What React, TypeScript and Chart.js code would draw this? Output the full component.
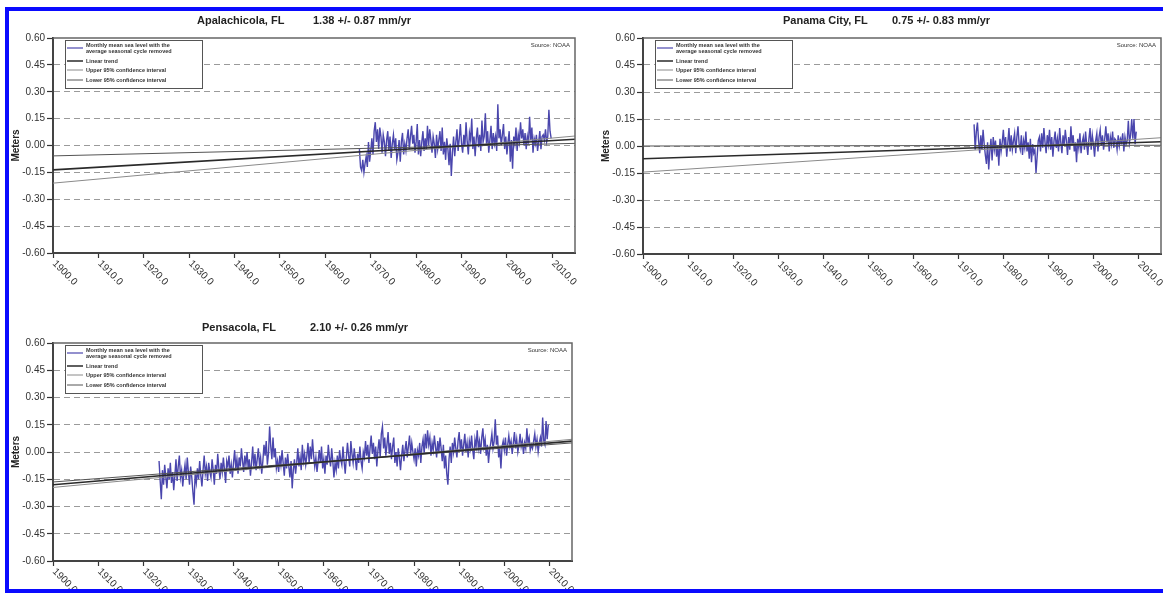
import React, { useEffect, useRef } from "react";
import { Chart, registerables } from "chart.js";

Chart.register(...registerables);

// ---------- shared axis data ----------
const X_TICKS = [1900, 1910, 1920, 1930, 1940, 1950, 1960, 1970, 1980, 1990, 2000, 2010];
const Y_TICKS = [-0.6, -0.45, -0.3, -0.15, 0, 0.15, 0.3, 0.45, 0.6];
const X_MIN = 1900;
const X_MAX = 2015;
const STEP = 0.25; // quarterly samples of the monthly record

const LEGEND_LABELS = [
  ["Monthly mean sea level with the", "average seasonal cycle removed"],
  ["Linear trend"],
  ["Upper 95% confidence interval"],
  ["Lower 95% confidence interval"],
];
const SOURCE_TEXT = "Source: NOAA";
const Y_TITLE = "Meters";

// ---------- Apalachicola ----------
const APALACHICOLA_NAME = "Apalachicola, FL";
const APALACHICOLA_RATE = "1.38 +/- 0.87 mm/yr";
const APALACHICOLA_START = 1967.5;
const APALACHICOLA_SEA_LEVEL = [
  -0.02, -0.12,
  -0.14, -0.08, -0.15, -0.10,
  -0.06, -0.12, 0.02, -0.09,
  -0.03, 0.04, -0.05, 0.08,
  0.13, 0.02, 0.09, -0.02,
  0.10, 0.05, -0.04, 0.06,
  0.02, -0.06, 0.03, 0.08,
  -0.03, 0.05, -0.07, 0.01,
  0.06, -0.02, 0.04, -0.08,
  -0.04, 0.03, -0.09, 0.02,
  0.07, -0.05, 0.01, -0.03,
  0.04, 0.09, -0.02, 0.05,
  0.11, 0.01, 0.06, -0.04,
  0.02, 0.12, -0.05, 0.03,
  -0.06, 0.02, 0.08, -0.03,
  0.04, -0.02, 0.11, 0.00,
  0.09, 0.03, -0.04, 0.05,
  0.01, -0.07, 0.06, -0.02,
  0.03, 0.08, -0.03, 0.10,
  -0.05, 0.02, -0.08, 0.04,
  -0.02, -0.11, 0.01, -0.17,
  -0.04, 0.05, -0.06, 0.02,
  0.09, -0.03, 0.04, 0.12,
  0.01, -0.04, 0.06, 0.00,
  0.13, 0.02, -0.05, 0.07,
  0.03, 0.15, -0.02, 0.05,
  -0.06, 0.04, 0.10, -0.01,
  0.06, -0.03, 0.14, 0.02,
  0.05, 0.18, 0.01, 0.08,
  -0.04, 0.03, 0.11, -0.02,
  0.07, 0.01, 0.05, -0.03,
  0.23, 0.04, 0.09, 0.00,
  0.06, 0.12, -0.02, 0.05,
  -0.05, 0.02, 0.08, -0.09,
  0.03, -0.13, 0.05, 0.01,
  0.10, -0.03, 0.06, 0.02,
  0.13, 0.04, 0.09, 0.00,
  0.07, -0.02, 0.05, 0.01,
  0.16, 0.03, 0.10, -0.04,
  0.04, 0.01, 0.06, -0.03,
  0.02, 0.08, -0.02, 0.05,
  0.06, 0.03, 0.09, 0.02,
  0.05, 0.20, 0.08, 0.04,
];
// values at X_MIN and X_MAX
const APALACHICOLA_TREND = [-0.136, 0.035];
const APALACHICOLA_UPPER = [-0.21, 0.053];
const APALACHICOLA_LOWER = [-0.058, 0.012];

// ---------- Panama City ----------
const PANAMA_NAME = "Panama City, FL";
const PANAMA_RATE = "0.75 +/- 0.83 mm/yr";
const PANAMA_START = 1973.5;
const PANAMA_SEA_LEVEL = [
  0.12, -0.02,
  0.08, 0.13, 0.03, -0.04,
  0.06, -0.02, 0.09, 0.01,
  -0.05, -0.10, 0.02, -0.13,
  -0.03, 0.04, -0.08, 0.05,
  -0.02, 0.03, -0.06, 0.00,
  -0.11, 0.04, -0.03, 0.02,
  0.09, -0.01, 0.05, -0.06,
  0.02, 0.10, -0.03, 0.06,
  -0.02, 0.03, 0.07, -0.04,
  0.05, 0.11, 0.01, -0.02,
  0.06, -0.05, 0.03, -0.01,
  0.08, -0.03, 0.02, -0.07,
  0.04, -0.09, 0.01, -0.04,
  -0.02, -0.15, -0.06, 0.03,
  0.05, -0.03, 0.07, -0.01,
  0.10, 0.02, -0.04, 0.06,
  0.01, 0.09, -0.02, 0.05,
  -0.06, 0.03, 0.08, -0.01,
  0.04, -0.03, 0.10, 0.02,
  -0.04, 0.06, 0.00, 0.09,
  0.03, -0.05, 0.05, -0.02,
  0.11, 0.01, 0.06, -0.03,
  0.02, -0.09, 0.04, -0.01,
  0.07, -0.04, 0.02, 0.05,
  -0.02, 0.08, 0.01, -0.05,
  0.04, 0.10, -0.02, 0.06,
  0.01, -0.06, 0.03, 0.07,
  -0.03, 0.05, 0.09, 0.00,
  0.06, -0.02, 0.04, 0.11,
  0.02, 0.07, -0.03, 0.05,
  0.01, 0.08, -0.01, 0.04,
  0.03, -0.02, 0.06, 0.00,
  0.04, 0.02, 0.07, -0.03,
  0.05, 0.01, 0.03, 0.14,
  0.02, 0.06, 0.15, 0.04,
  0.15, 0.01, 0.08,
];
const PANAMA_TREND = [-0.071, 0.024];
const PANAMA_UPPER = [-0.145, 0.046];
const PANAMA_LOWER = [0.0, 0.004];

// ---------- Pensacola ----------
const PENSACOLA_NAME = "Pensacola, FL";
const PENSACOLA_RATE = "2.10 +/- 0.26 mm/yr";
const PENSACOLA_START = 1923.5;
const PENSACOLA_SEA_LEVEL = [
  -0.05, -0.16,
  -0.26, -0.10, -0.18, -0.07,
  -0.14, -0.20, -0.09, -0.15,
  -0.06, -0.17, -0.11, -0.21,
  -0.13, -0.04, -0.16, -0.08,
  -0.02, -0.14, -0.10, -0.19,
  -0.12, -0.07, -0.15, -0.03,
  -0.11, -0.18, -0.08, -0.14,
  -0.22, -0.29, -0.12, -0.17,
  -0.09, -0.15, -0.05, -0.13,
  -0.19, -0.10, -0.02, -0.12,
  -0.08, -0.16, -0.06, -0.11,
  -0.14, -0.04, -0.10, -0.18,
  -0.07, -0.12, -0.01, -0.09,
  -0.15, -0.06, -0.11, -0.03,
  -0.10, -0.17, -0.05, -0.08,
  -0.02, -0.12, -0.07, -0.14,
  -0.06, 0.01, -0.09, -0.04,
  -0.12, -0.03, -0.08, 0.02,
  -0.05, -0.11, -0.02, -0.07,
  0.00, -0.09, -0.04, -0.13,
  -0.06, 0.03, -0.08, -0.01,
  -0.10, -0.04, 0.02, -0.07,
  -0.03, -0.12, -0.05, 0.04,
  -0.02, 0.06, -0.07, -0.01,
  0.14, 0.03, -0.04, 0.08,
  -0.03, 0.02, -0.09, -0.05,
  -0.11, -0.02, -0.07, 0.01,
  -0.06, -0.13, -0.03, -0.09,
  -0.01, -0.08, -0.14, -0.05,
  -0.20, -0.10, -0.04, -0.12,
  -0.06, 0.02, -0.08, -0.03,
  -0.10, 0.04, -0.05, -0.01,
  -0.07, -0.02, 0.05, -0.06,
  0.03, -0.04, 0.07, -0.02,
  -0.08, -0.03, -0.11, -0.05,
  0.01, -0.06, 0.03, -0.09,
  -0.04, -0.12, -0.02, -0.07,
  0.04, -0.03, -0.08, 0.02,
  -0.05, -0.14, -0.06, -0.10,
  -0.02, -0.09, 0.01, -0.04,
  -0.07, 0.03, -0.05, -0.12,
  -0.03, 0.05, -0.02, -0.08,
  0.06, -0.01, -0.06, 0.02,
  -0.04, -0.10, -0.01, -0.06,
  0.03, -0.05, -0.09, 0.00,
  -0.03, 0.06, -0.02, 0.04,
  -0.06, 0.02, 0.09, -0.01,
  0.05, -0.04, 0.03, -0.08,
  0.01, 0.07, -0.03, 0.10,
  0.14, 0.02, 0.08, -0.02,
  0.04, 0.11, -0.01, 0.05,
  -0.04, 0.03, 0.08, -0.06,
  0.00, -0.08, 0.02, -0.03,
  -0.10, -0.02, 0.04, -0.05,
  0.01, 0.06, -0.03, 0.03,
  0.09, -0.01, 0.05, 0.00,
  -0.04, 0.02, -0.08, 0.01,
  -0.02, 0.05, -0.06, 0.03,
  0.07, -0.01, 0.10, 0.02,
  0.12, 0.04, 0.08, -0.02,
  0.05, 0.01, 0.09, 0.03,
  -0.03, 0.06, 0.00, 0.08,
  0.02, -0.05, 0.04, -0.09,
  -0.02, -0.12, -0.18, -0.04,
  0.03, -0.06, 0.05, 0.00,
  0.08, 0.02, -0.03, 0.06,
  0.11, 0.01, 0.07, -0.02,
  0.04, 0.10, 0.00, 0.05,
  -0.03, 0.06, 0.02, 0.09,
  0.01, -0.04, 0.07, 0.03,
  0.12, 0.02, 0.06, -0.01,
  0.08, 0.13, 0.03, 0.07,
  -0.02, 0.04, -0.06, 0.01,
  0.05, 0.10, 0.02, 0.06,
  0.18, 0.04, 0.09, -0.03,
  0.02, -0.09, 0.03, 0.06,
  0.01, 0.08, -0.02, 0.04,
  0.09, 0.03, 0.06, -0.01,
  0.05, 0.11, 0.02, 0.07,
  0.00, 0.04, 0.10, 0.03,
  0.06, -0.01, 0.05, 0.02,
  0.13, 0.05, 0.08, 0.01,
  0.04, 0.02, 0.06, 0.10,
  0.03, 0.07, 0.00, 0.05,
  0.08, 0.03, 0.19, 0.06,
  0.04, 0.17, 0.07, 0.15,
];
const PENSACOLA_TREND = [-0.18, 0.06];
const PENSACOLA_UPPER = [-0.195, 0.07];
const PENSACOLA_LOWER = [-0.165, 0.05];

// ---------- styling ----------
const FONT = "'Liberation Sans', Arial, Helvetica, sans-serif";
const SERIES_COLOR = "#4a46ad";
const TREND_COLOR = "#2a2a2a";
const UPPER_COLOR = "#8a8a8a";
const LOWER_COLOR = "#555555";

type PanelDef = {
  name: string;
  rate: string;
  start: number;
  values: number[];
  trend: number[];
  upper: number[];
  lower: number[];
  box: { left: number; top: number; width: number; height: number };
  padTop: number;
  padRight: number;
  xAxisHeight: number;
  titleDx: [number, number];
  titleY: number;
};

const PANELS: PanelDef[] = [
  {
    name: APALACHICOLA_NAME, rate: APALACHICOLA_RATE, start: APALACHICOLA_START,
    values: APALACHICOLA_SEA_LEVEL, trend: APALACHICOLA_TREND, upper: APALACHICOLA_UPPER, lower: APALACHICOLA_LOWER,
    box: { left: 0, top: 0, width: 590, height: 300 }, padTop: 38, padRight: 15, xAxisHeight: 47,
    titleDx: [144, 260], titleY: 21,
  },
  {
    name: PANAMA_NAME, rate: PANAMA_RATE, start: PANAMA_START,
    values: PANAMA_SEA_LEVEL, trend: PANAMA_TREND, upper: PANAMA_UPPER, lower: PANAMA_LOWER,
    box: { left: 590, top: 0, width: 573, height: 300 }, padTop: 38, padRight: 2, xAxisHeight: 46,
    titleDx: [140, 249], titleY: 21,
  },
  {
    name: PENSACOLA_NAME, rate: PENSACOLA_RATE, start: PENSACOLA_START,
    values: PENSACOLA_SEA_LEVEL, trend: PENSACOLA_TREND, upper: PENSACOLA_UPPER, lower: PENSACOLA_LOWER,
    box: { left: 0, top: 300, width: 590, height: 293 }, padTop: 43, padRight: 18, xAxisHeight: 32,
    titleDx: [149, 257], titleY: 28,
  },
];

function makeDecor(p: PanelDef) {
  return {
    id: "decor",
    afterDraw(chart: any) {
      const { ctx, chartArea: a, scales } = chart;
      ctx.save();
      // frame (top & right)
      ctx.strokeStyle = "#666";
      ctx.lineWidth = 1.5;
      ctx.setLineDash([]);
      ctx.beginPath();
      ctx.moveTo(a.left, a.top);
      ctx.lineTo(a.right, a.top);
      ctx.lineTo(a.right, a.bottom);
      ctx.stroke();

      // title
      ctx.fillStyle = "#222";
      ctx.font = `bold 11px ${FONT}`;
      ctx.textBaseline = "middle";
      ctx.textAlign = "left";
      ctx.fillText(p.name, a.left + p.titleDx[0], p.titleY);
      ctx.fillText(p.rate, a.left + p.titleDx[1], p.titleY);

      // source
      ctx.font = `6px ${FONT}`;
      ctx.fillStyle = "#333";
      ctx.textAlign = "right";
      ctx.fillText(SOURCE_TEXT, a.right - 5, a.top + 7);

      // legend box
      const lx = a.left + 12;
      const ly = a.top + 2;
      const lw = 137;
      const lh = 48;
      ctx.fillStyle = "#fff";
      ctx.fillRect(lx, ly, lw, lh);
      ctx.strokeStyle = "#555";
      ctx.lineWidth = 1;
      ctx.strokeRect(lx + 0.5, ly + 0.5, lw, lh);
      const rows = [
        { color: SERIES_COLOR, w: 1.2, lineY: 8, textY: [5, 11] },
        { color: TREND_COLOR, w: 1.5, lineY: 21, textY: [21] },
        { color: UPPER_COLOR, w: 1, lineY: 30, textY: [30] },
        { color: LOWER_COLOR, w: 1, lineY: 40, textY: [40] },
      ];
      ctx.font = `bold 5.5px ${FONT}`;
      ctx.textAlign = "left";
      ctx.textBaseline = "middle";
      rows.forEach((r, i) => {
        ctx.strokeStyle = r.color;
        ctx.lineWidth = r.w;
        ctx.beginPath();
        ctx.moveTo(lx + 2, ly + r.lineY);
        ctx.lineTo(lx + 18, ly + r.lineY);
        ctx.stroke();
        ctx.fillStyle = "#333";
        LEGEND_LABELS[i].forEach((t, j) => ctx.fillText(t, lx + 21, ly + r.textY[j]));
      });

      // rotated x labels
      const xs = scales.x;
      ctx.font = `10px ${FONT}`;
      ctx.fillStyle = "#333";
      ctx.textAlign = "left";
      ctx.textBaseline = "middle";
      xs.ticks.forEach((t: any) => {
        const px = xs.getPixelForValue(t.value);
        ctx.save();
        ctx.translate(px + 1, a.bottom + 9);
        ctx.rotate(Math.PI / 4);
        ctx.fillText(Number(t.value).toFixed(1), 0, 0);
        ctx.restore();
      });
      ctx.restore();
    },
  };
}

function lineSet(label: string, ends: number[], color: string, width: number) {
  return {
    label,
    data: [
      { x: X_MIN, y: ends[0] },
      { x: X_MAX, y: ends[1] },
    ],
    borderColor: color,
    borderWidth: width,
    pointRadius: 0,
    fill: false,
    order: 1,
  };
}

function buildConfig(p: PanelDef): any {
  const series = p.values.map((v, i) => ({ x: p.start + i * STEP, y: v }));
  return {
    type: "line",
    data: {
      datasets: [
        lineSet("Linear trend", p.trend, TREND_COLOR, 1.6),
        lineSet("Upper 95% confidence interval", p.upper, UPPER_COLOR, 1),
        lineSet("Lower 95% confidence interval", p.lower, LOWER_COLOR, 1),
        {
          label: "Monthly mean sea level",
          data: series,
          borderColor: SERIES_COLOR,
          borderWidth: 1.4,
          pointRadius: 0,
          fill: false,
          order: 2,
        },
      ],
    },
    options: {
      responsive: false,
      animation: false,
      events: [],
      layout: { padding: { left: 0, top: p.padTop, right: p.padRight, bottom: 0 } },
      plugins: { legend: { display: false }, tooltip: { enabled: false }, title: { display: false } },
      scales: {
        x: {
          type: "linear",
          min: X_MIN,
          max: X_MAX,
          afterBuildTicks: (s: any) => {
            s.ticks = X_TICKS.map((v) => ({ value: v }));
          },
          afterFit: (s: any) => {
            s.height = p.xAxisHeight;
          },
          ticks: { display: false },
          grid: {
            drawOnChartArea: false,
            drawTicks: true,
            tickLength: 5,
            tickColor: "#333",
            tickWidth: 1.2,
            tickBorderDash: [],
          },
          border: { display: true, color: "#444", width: 2 },
        },
        y: {
          type: "linear",
          min: -0.6,
          max: 0.6,
          afterBuildTicks: (s: any) => {
            s.ticks = Y_TICKS.map((v) => ({ value: v }));
          },
          afterFit: (s: any) => {
            s.width = 53;
          },
          ticks: {
            padding: 2,
            color: "#333",
            font: { family: FONT, size: 10 },
            callback: (v: any) => Number(v).toFixed(2),
          },
          title: {
            display: true,
            text: Y_TITLE,
            color: "#222",
            font: { family: FONT, size: 10, weight: "bold" },
            padding: { top: 10, bottom: 0 },
          },
          grid: {
            drawOnChartArea: true,
            drawTicks: true,
            tickLength: 6,
            color: (c: any) => (c.tick && Math.abs(c.tick.value) > 0.59 ? "rgba(0,0,0,0)" : "#9a9a9a"),
            lineWidth: 1,
            tickColor: "#333",
            tickWidth: 1.2,
            tickBorderDash: [],
          },
          border: { display: true, color: "#444", width: 2, dash: [6, 4] },
        },
      },
    },
    plugins: [makeDecor(p)],
  };
}

function PanelChart({ panel }: { panel: PanelDef }) {
  const ref = useRef<HTMLCanvasElement>(null);
  useEffect(() => {
    if (!ref.current) return;
    const chart = new Chart(ref.current, buildConfig(panel));
    return () => chart.destroy();
  }, [panel]);
  const b = panel.box;
  return (
    <canvas
      ref={ref}
      width={b.width}
      height={b.height}
      style={{ position: "absolute", left: b.left, top: b.top, width: b.width, height: b.height, display: "block" }}
    />
  );
}

export default function App() {
  return (
    <div
      style={{
        position: "absolute",
        left: 0,
        top: 0,
        width: 1163,
        height: 593,
        overflow: "hidden",
        background: "#fff",
      }}
    >
      {PANELS.map((p) => (
        <PanelChart key={p.name} panel={p} />
      ))}
      <div
        style={{
          position: "absolute",
          left: 5,
          top: 7,
          width: 1170,
          height: 586,
          border: "4px solid #0a0aff",
          boxSizing: "border-box",
          pointerEvents: "none",
        }}
      />
    </div>
  );
}
